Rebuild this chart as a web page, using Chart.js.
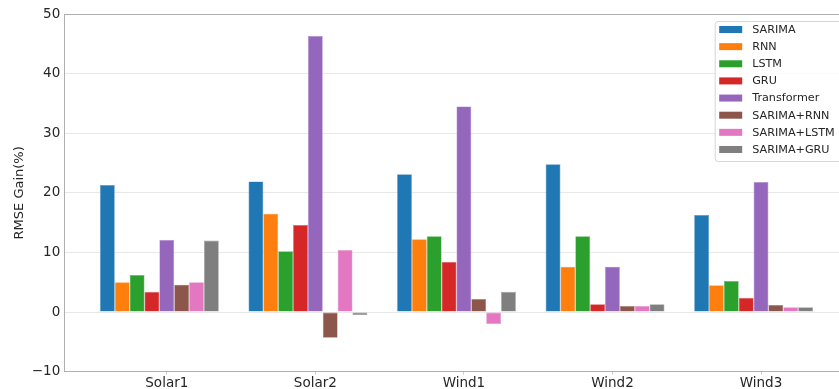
<!DOCTYPE html>
<html>
<head>
<meta charset="utf-8">
<script src="https://cdn.jsdelivr.net/npm/chart.js@4/dist/chart.umd.min.js"></script>
<style>
  html, body { margin: 0; padding: 0; background: #fff; overflow: hidden; }
  #wrap { width: 839px; height: 389px; position: relative; }
</style>
</head>
<body>
<div id="wrap"><canvas id="chart"></canvas></div>
<script>
// RMSE gain (%) per dataset site and forecasting model
const categories = ['Solar1', 'Solar2', 'Wind1', 'Wind2', 'Wind3'];
const seriesNames = ['SARIMA', 'RNN', 'LSTM', 'GRU', 'Transformer', 'SARIMA+RNN', 'SARIMA+LSTM', 'SARIMA+GRU'];

const sarima      = [21.3, 21.9, 23.1, 24.8, 16.3];
const rnn         = [ 5.0, 16.5, 12.2,  7.6,  4.5];
const lstm        = [ 6.2, 10.2, 12.7, 12.7,  5.2];
const gru         = [ 3.4, 14.6,  8.4,  1.3,  2.4];
const transformer = [12.1, 46.3, 34.5,  7.6, 21.8];
const sarimaRnn   = [ 4.6, -4.3,  2.2,  1.0,  1.2];
const sarimaLstm  = [ 5.0, 10.4, -2.0,  1.0,  0.8];
const sarimaGru   = [12.0, -0.5,  3.4,  1.3,  0.8];

const yTicks = [-10, 0, 10, 20, 30, 40, 50];

const seriesValues = [sarima, rnn, lstm, gru, transformer, sarimaRnn, sarimaLstm, sarimaGru];
const palette = ['#1f77b4', '#ff7f0e', '#2ca02c', '#d62728', '#9467bd', '#8c564b', '#e377c2', '#7f7f7f'];

const FONT = 'DejaVu Sans';
const TEXT = '#262626';
const SPINE = '#b0b0b0';

function lighten(hex, t) {
  const n = parseInt(hex.slice(1), 16);
  const r = (n >> 16) & 255, g = (n >> 8) & 255, b = n & 255;
  const m = c => Math.round(c + (255 - c) * t);
  return `rgb(${m(r)},${m(g)},${m(b)})`;
}

// Legend drawn inside the plot, upper right, in a rounded frame
const boxLegend = {
  id: 'boxLegend',
  afterDraw(chart, args, o) {
    const { ctx, chartArea } = chart;
    const left = chartArea.right - o.fromRight;
    const top = chartArea.top + o.fromTop;
    ctx.save();
    ctx.beginPath();
    ctx.roundRect(left + 0.5, top + 0.5, o.width, o.height, 3);
    ctx.fillStyle = 'rgba(255,255,255,0.8)';
    ctx.fill();
    ctx.strokeStyle = '#d6d6d6';
    ctx.lineWidth = 1;
    ctx.stroke();
    ctx.font = `${o.fontSize}px "${FONT}"`;
    ctx.textBaseline = 'middle';
    ctx.textAlign = 'left';
    chart.data.datasets.forEach((ds, i) => {
      const cy = top + o.firstRow + i * o.rowPitch;
      ctx.fillStyle = ds.backgroundColor;
      ctx.fillRect(left + o.patchX, cy - o.patchH / 2, o.patchW, o.patchH);
      ctx.fillStyle = TEXT;
      ctx.fillText(ds.label, left + o.textX, cy + 0.5);
    });
    ctx.restore();
  }
};

const datasets = seriesNames.map((name, s) => ({
  label: name,
  data: seriesValues[s].map((v, i) => ({ x: i, y: v })),
  backgroundColor: palette[s],
  borderColor: lighten(palette[s], 0.25),
  borderWidth: 0.6,
  borderSkipped: false,
  categoryPercentage: 0.8,
  barPercentage: 1.0
}));

new Chart(document.getElementById('chart'), {
  type: 'bar',
  data: { datasets },
  plugins: [boxLegend],
  options: {
    responsive: true,
    maintainAspectRatio: false,
    animation: false,
    layout: { padding: { top: 14, right: 0, bottom: 0, left: 0 } },
    plugins: {
      legend: { display: false },
      tooltip: { enabled: false },
      boxLegend: {
        fromRight: 124.3, fromTop: 7, width: 135, height: 140,
        firstRow: 8.5, rowPitch: 17.14,
        patchX: 4.5, patchW: 23, patchH: 7, textX: 37.5, fontSize: 11.2
      }
    },
    scales: {
      x: {
        type: 'linear',
        min: -0.64,
        max: 4.575,
        offset: false,
        afterBuildTicks: axis => { axis.ticks = categories.map((_, i) => ({ value: i + 0.05 })); },
        afterFit: axis => { axis.height = 17.3; },
        ticks: {
          callback: (v, i) => categories[i],
          autoSkip: false,
          maxRotation: 0,
          padding: 1,
          color: TEXT,
          font: { family: FONT, size: 13.5 }
        },
        grid: { display: true, offset: false, drawOnChartArea: false, drawTicks: true, tickLength: 3, color: '#cfcfcf' },
        border: { color: SPINE, width: 1 }
      },
      y: {
        min: -10,
        max: 50,
        afterBuildTicks: axis => { axis.ticks = yTicks.map(v => ({ value: v })); },
        afterFit: axis => { axis.width = 64.3; },
        ticks: {
          callback: v => (v < 0 ? '\u2212' + Math.abs(v) : String(v)),
          padding: 4,
          color: TEXT,
          font: { family: FONT, size: 13.5 }
        },
        grid: {
          drawTicks: false,
          color: ctx => (ctx.tick && ctx.tick.value === 50 ? SPINE : '#e8e8e8'),
          lineWidth: 1
        },
        border: { color: SPINE, width: 1 },
        title: {
          display: true,
          text: 'RMSE Gain(%)',
          color: TEXT,
          font: { family: FONT, size: 13 },
          padding: { top: 12, bottom: 0 }
        }
      }
    }
  }
});
</script>
</body>
</html>
